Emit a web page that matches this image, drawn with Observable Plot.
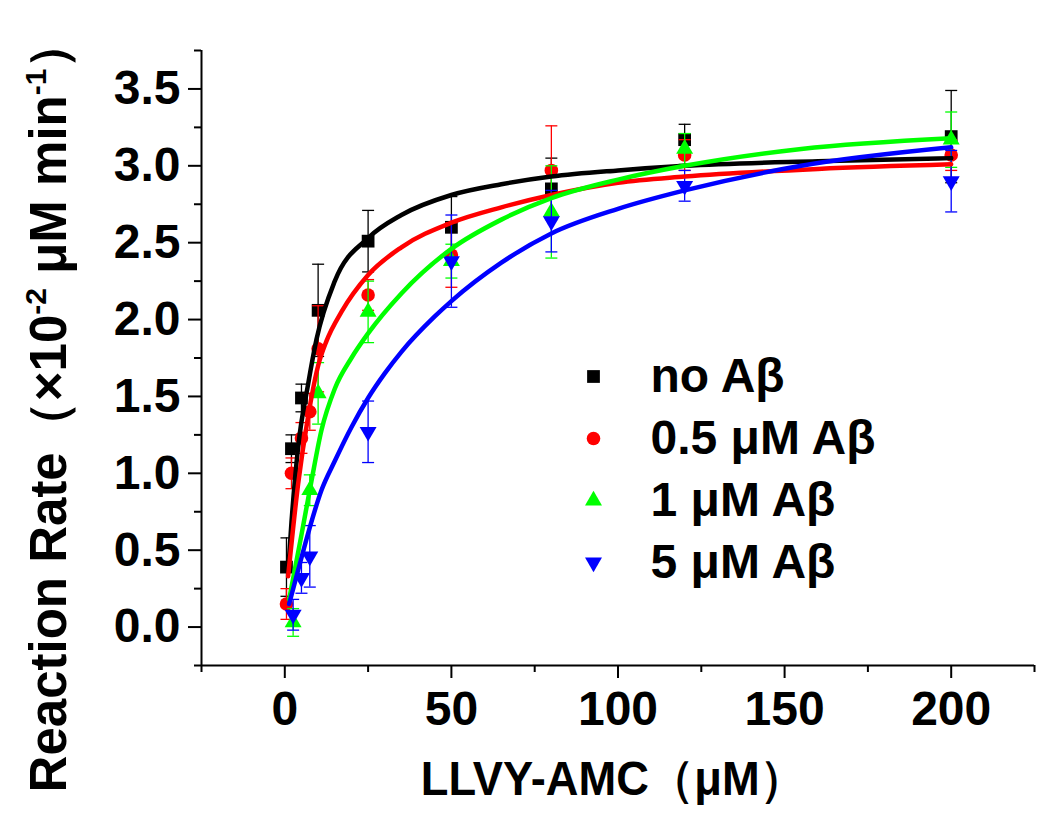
<!DOCTYPE html>
<html>
<head>
<meta charset="utf-8">
<script src="https://cdn.jsdelivr.net/npm/d3@7"></script>
<script src="https://cdn.jsdelivr.net/npm/@observablehq/plot@0.6"></script>
<style>
  html, body { margin: 0; padding: 0; background: #fff; }
  #chart svg { display: block; }
</style>
</head>
<body>
<div id="chart"></div>
<script>
// ---------- data ----------
const seriesNames = ["no Aβ", "0.5 μM Aβ", "1 μM Aβ", "5 μM Aβ"];
const seriesColors = ["#000000", "#ff0000", "#00ff00", "#0000ff"];

const concBlack = [0.5, 2, 5, 10, 25, 50, 80, 120, 200];
const rateBlack = [0.39, 1.16, 1.49, 2.06, 2.51, 2.60, 2.85, 3.17, 3.19];
const errBlack  = [0.19, 0.09, 0.09, 0.30, 0.20, 0.20, 0.20, 0.10, 0.30];

const concRed = [0.5, 2, 5, 7.5, 10, 25, 50, 80, 120, 200];
const rateRed = [0.15, 1.00, 1.23, 1.40, 1.81, 2.16, 2.42, 2.97, 3.07, 3.07];
const errRed  = [0.10, 0.10, 0.10, 0.12, 0.28, 0.10, 0.21, 0.29, 0.10, 0.10];

const concGreen = [2.5, 7.5, 10, 25, 50, 80, 120, 200];
const rateGreen = [0.03, 0.89, 1.52, 2.05, 2.38, 2.70, 3.11, 3.17];
const errGreen  = [0.09, 0.10, 0.20, 0.20, 0.11, 0.30, 0.10, 0.18];

const concBlue = [2.5, 5, 7.5, 25, 50, 80, 120, 200];
const rateBlue = [0.08, 0.32, 0.46, 1.27, 2.38, 2.64, 2.87, 2.90];
const errBlue  = [0.10, 0.10, 0.20, 0.20, 0.30, 0.20, 0.10, 0.20];

// fitted curves
const fitConcBlack = [1, 2, 4, 7, 9.5, 15, 25, 35, 50, 65, 80, 100, 120, 160, 200];
const fitRateBlack = [0.36, 0.68, 1.17, 1.58, 1.87, 2.25, 2.53, 2.68, 2.81, 2.88, 2.93, 2.97, 3.00, 3.03, 3.05];

const fitConcRed = [1, 4, 7, 10, 12.5, 17, 25, 35, 50, 65, 80, 100, 120, 160, 200];
const fitRateRed = [0.33, 0.93, 1.37, 1.70, 1.86, 2.05, 2.29, 2.47, 2.63, 2.73, 2.81, 2.89, 2.93, 2.98, 3.01];

const fitConcGreen = [1.3, 5, 8, 11, 15, 20, 25, 35, 50, 65, 80, 100, 120, 155, 200];
const fitRateGreen = [0.18, 0.60, 0.95, 1.28, 1.55, 1.75, 1.91, 2.17, 2.46, 2.65, 2.79, 2.91, 3.00, 3.11, 3.18];

const fitConcBlue = [1.3, 4, 7, 11, 15, 20, 25, 30, 35, 45, 50, 65, 80, 100, 120, 155, 200];
const fitRateBlue = [0.15, 0.37, 0.61, 0.89, 1.08, 1.30, 1.49, 1.65, 1.79, 2.02, 2.12, 2.37, 2.56, 2.72, 2.84, 3.00, 3.12];

const xTicks = [0, 50, 100, 150, 200];
const xMinorTicks = [-25, 25, 75, 125, 175, 225];
const yTicks = [0, 0.5, 1.0, 1.5, 2.0, 2.5, 3.0, 3.5];
const yMinorTicks = [-0.25, 0.25, 0.75, 1.25, 1.75, 2.25, 2.75, 3.25, 3.75];

const xTitle = "LLVY-AMC（μM）";
const yTitleParts = ["Reaction Rate（×10", "-2", " μM min", "-1", "）"];

// ---------- build tables ----------
const pointSets = [
  [concBlack, rateBlack, errBlack],
  [concRed, rateRed, errRed],
  [concGreen, rateGreen, errGreen],
  [concBlue, rateBlue, errBlue]
].map(([xs, ys, es], s) => xs.map((x, i) => ({s, x, y: ys[i], e: es[i]})));

const fitSets = [
  [fitConcBlack, fitRateBlack],
  [fitConcRed, fitRateRed],
  [fitConcGreen, fitRateGreen],
  [fitConcBlue, fitRateBlue]
].map(([xs, ys], s) => xs.map((x, i) => ({s, x, y: ys[i]})));

const symbolSpecs = [
  {symbol: "square", r: 7.2, rotate: 0},
  {symbol: "circle", r: 6.8, rotate: 0},
  {symbol: "triangle", r: 6.3, rotate: 0},
  {symbol: "triangle", r: 6.3, rotate: 180}
];

const capSymbol = { draw(ctx) { ctx.moveTo(-6, 0); ctx.lineTo(6, 0); } };

const FONT = "'Liberation Sans', Arial, Helvetica, sans-serif";

const marks = [];

// error bars + points
pointSets.forEach((rows, s) => {
  const c = seriesColors[s];
  marks.push(Plot.ruleX(rows, {x: "x", y1: d => d.y - d.e, y2: d => d.y + d.e, stroke: c, strokeWidth: 1.3}));
  marks.push(Plot.dot(rows, {x: "x", y: d => d.y + d.e, symbol: capSymbol, fill: "none", stroke: c, strokeWidth: 1.3}));
  marks.push(Plot.dot(rows, {x: "x", y: d => d.y - d.e, symbol: capSymbol, fill: "none", stroke: c, strokeWidth: 1.3}));
  const sp = symbolSpecs[s];
  marks.push(Plot.dot(rows, {x: "x", y: "y", symbol: sp.symbol, r: sp.r, rotate: sp.rotate, fill: c, stroke: "none"}));
});

// fitted curves
fitSets.forEach((rows, s) => {
  marks.push(Plot.line(rows, {x: "x", y: "y", stroke: seriesColors[s], strokeWidth: 4.5, curve: "monotone-x"}));
});

// legend
seriesNames.forEach((name, s) => {
  const sp = symbolSpecs[s];
  marks.push(Plot.dot([name], {frameAnchor: "top-left", dx: 392, dy: 326 + 62 * s,
    symbol: sp.symbol, r: sp.r, rotate: sp.rotate, fill: seriesColors[s], stroke: "none"}));
  marks.push(Plot.text([name], {frameAnchor: "top-left", dx: 449, dy: 326 + 62 * s,
    text: d => d, textAnchor: "start", lineAnchor: "middle", fontSize: 48, fontWeight: "bold", fontFamily: FONT, fill: "#000"}));
});

// axes
marks.push(
  Plot.axisX(xTicks, {tickSize: 13, tickPadding: 12, strokeWidth: 2, fontSize: 48, fontWeight: "bold", fontFamily: FONT, label: null, tickFormat: d => String(d)}),
  Plot.axisX(xMinorTicks, {tickSize: 7, strokeWidth: 2, label: null, tickFormat: () => ""}),
  Plot.axisY(yTicks, {tickSize: 13, tickPadding: 8, strokeWidth: 2, fontSize: 48, fontWeight: "bold", fontFamily: FONT, label: null, tickFormat: d3.format(".1f")}),
  Plot.axisY(yMinorTicks, {tickSize: 7, strokeWidth: 2, label: null, tickFormat: () => ""}),
  Plot.ruleX([-25], {strokeWidth: 2, stroke: "#000"}),
  Plot.ruleY([-0.25], {strokeWidth: 2, stroke: "#000"})
);

const svg = Plot.plot({
  width: 1050,
  height: 815,
  marginLeft: 201,
  marginRight: 16,
  marginTop: 50,
  marginBottom: 150,
  style: {fontFamily: FONT, fontWeight: "bold", background: "#fff", color: "#000"},
  x: {domain: [-25, 225]},
  y: {domain: [-0.25, 3.75]},
  marks
});

document.getElementById("chart").appendChild(svg);

// x-axis title, stretched to the reference's length
const xt = d3.select(svg).append("text")
  .attr("text-anchor", "middle")
  .attr("font-family", FONT)
  .attr("font-weight", "bold")
  .attr("font-size", 46)
  .attr("fill", "#000")
  .text(xTitle);
{
  const len = xt.node().getComputedTextLength();
  const sx = 384 / len;
  xt.attr("transform", `translate(613,795) scale(${sx},1.05)`);
}

// y-axis title with superscripts
const yt = d3.select(svg).append("text")
  .attr("text-anchor", "middle")
  .attr("font-family", FONT)
  .attr("font-weight", "bold")
  .attr("font-size", 51)
  .attr("fill", "#000");
yt.append("tspan").text(yTitleParts[0]);
yt.append("tspan").attr("dy", -20).attr("font-size", 30).text(yTitleParts[1]);
yt.append("tspan").attr("dy", 20).text(yTitleParts[2]);
yt.append("tspan").attr("dy", -20).attr("font-size", 30).text(yTitleParts[3]);
yt.append("tspan").attr("dy", 20).text(yTitleParts[4]);
{
  const len = yt.node().getComputedTextLength();
  const sy = 775 / len;
  yt.attr("transform", `translate(66,405) rotate(-90) scale(${sy},1)`);
}
</script>
</body>
</html>
